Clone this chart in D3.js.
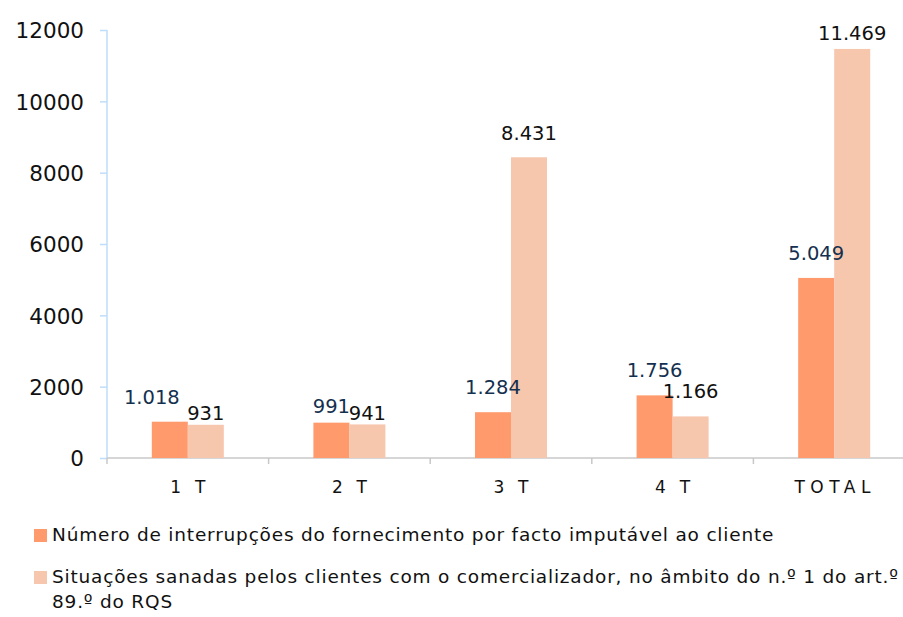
<!DOCTYPE html>
<html><head><meta charset="utf-8">
<script src="https://cdn.jsdelivr.net/npm/d3@7"></script>
<style>
body{margin:0;background:#fff;}
svg{display:block;font-family:"DejaVu Sans",sans-serif;}
</style></head>
<body><svg id="c" width="903" height="617"></svg>
<script>
const categories = ["1  T", "2  T", "3  T", "4  T", "TOTAL"];
const seriesNames = [
  "Número de interrupções do fornecimento por facto imputável ao cliente",
  "Situações sanadas pelos clientes com o comercializador, no âmbito do n.º 1 do art.º 89.º do RQS"
];
const interrupcoes = [1018, 991, 1284, 1756, 5049];
const sanadas = [931, 941, 8431, 1166, 11469];
const yTicks = [0, 2000, 4000, 6000, 8000, 10000, 12000];

const colors = ["#FF9A6C", "#F6C6AD"];
const labelColors = ["#14304F", "#111111"];
// layout nudges for value labels: [horizontal shift, px above bar top]
const nudge = [
  [[-18, 18], [0, 10], [0, 18], [0, 18], [0, 18]],
  [[0, 5], [0, 4.5], [0, 17], [0, 18], [0, 9]]
];

const svg = d3.select("#c");
const y = d3.scaleLinear().domain([0, 12000]).range([458, 30]);
const x0 = d3.scaleBand().domain(categories).range([107, 915]).paddingInner(0).paddingOuter(0);
const x1 = d3.scaleBand().domain([0, 1]).range([0, 72]);
const groupOffset = (x0.bandwidth() - 72) / 2;

// y axis
const yAxis = svg.append("g").attr("transform", "translate(107,0)")
  .call(d3.axisLeft(y).tickValues(yTicks).tickSize(7).tickPadding(16).tickFormat(d3.format("d")));
yAxis.select(".domain").attr("stroke", "#BFDDFB").attr("stroke-width", 1.5).attr("d", "M0,30V458");
yAxis.selectAll(".tick line").attr("stroke", "#BFDDFB").attr("stroke-width", 1.5);
yAxis.selectAll(".tick text").attr("font-size", 21.5).attr("fill", "#111").attr("font-family", "'DejaVu Sans',sans-serif").attr("dy", "0.36em");

// x axis
const xg = svg.append("g").attr("transform", "translate(0,458)");
xg.append("line").attr("x1", 107).attr("x2", 903).attr("stroke", "#C8C8C8").attr("stroke-width", 1.5);
categories.forEach((c, i) => {
  const xb = x0(c);
  xg.append("line").attr("x1", xb).attr("x2", xb).attr("y1", 0).attr("y2", 6).attr("stroke", "#C8C8C8").attr("stroke-width", 1.5);
  const isTot = c === "TOTAL";
  xg.append("text").attr("x", xb + x0.bandwidth() / 2 + (isTot ? 1 : 0.5)).attr("y", 35)
    .attr("text-anchor", "middle").attr("font-size", 17).attr("letter-spacing", isTot ? 5.5 : 1)
    .attr("fill", "#111").attr("xml:space", "preserve").style("white-space", "pre").text(c);
});

const series = [interrupcoes, sanadas];
const fmt = v => d3.format(",")(v).replace(/,/g, ".");
series.forEach((vals, s) => {
  svg.append("g").selectAll("rect").data(vals).join("rect")
    .attr("x", (d, i) => x0(categories[i]) + groupOffset + x1(s))
    .attr("width", x1.bandwidth())
    .attr("y", d => y(d))
    .attr("height", d => y(0) - y(d))
    .attr("fill", colors[s]);
});
series.forEach((vals, s) => {
  svg.append("g").selectAll("text").data(vals).join("text")
    .attr("x", (d, i) => x0(categories[i]) + groupOffset + x1(s) + x1.bandwidth() / 2 + nudge[s][i][0])
    .attr("y", (d, i) => y(d) - nudge[s][i][1])
    .attr("text-anchor", "middle").attr("font-size", 19.5).attr("fill", labelColors[s])
    .text(d => fmt(d));
});

// legend
const leg = svg.append("g").attr("font-size", 18.5).attr("letter-spacing", 0.8).attr("fill", "#111");
leg.append("rect").attr("x", 34).attr("y", 529).attr("width", 13).attr("height", 13).attr("fill", colors[0]);
leg.append("text").attr("x", 52).attr("y", 541).text(seriesNames[0]);
leg.append("rect").attr("x", 34).attr("y", 571).attr("width", 13).attr("height", 13).attr("fill", colors[1]);
const t2 = leg.append("text").attr("x", 52).attr("y", 583);
t2.append("tspan").attr("x", 52).text("Situações sanadas pelos clientes com o comercializador, no âmbito do n.º 1 do art.º");
t2.append("tspan").attr("x", 52).attr("dy", 25).text("89.º do RQS");
</script></body></html>
